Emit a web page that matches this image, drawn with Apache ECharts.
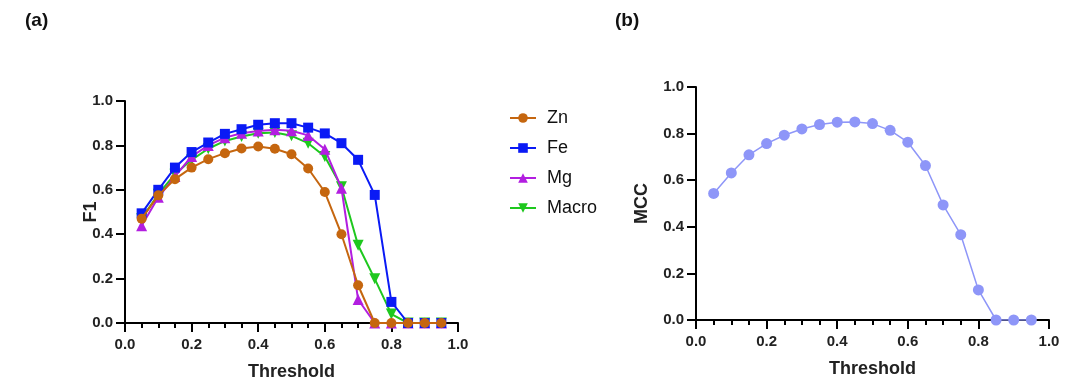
<!DOCTYPE html>
<html><head><meta charset="utf-8">
<script src="https://cdn.jsdelivr.net/npm/echarts@6/dist/echarts.min.js"></script>
<style>html,body{margin:0;padding:0;background:#fff}#c{width:1080px;height:391px}</style>
</head><body><div id="c"></div>
<script>
const thresholds = [0.05,0.1,0.15,0.2,0.25,0.3,0.35,0.4,0.45,0.5,0.55,0.6,0.65,0.7,0.75,0.8,0.85,0.9,0.95];
const zn    = [0.47,0.575,0.648,0.70,0.738,0.765,0.786,0.795,0.785,0.76,0.696,0.59,0.40,0.17,0,0,0,0,0];
const fe    = [0.494,0.60,0.70,0.77,0.813,0.852,0.873,0.893,0.90,0.90,0.88,0.854,0.81,0.735,0.577,0.095,0,0,0];
const mg    = [0.438,0.566,0.66,0.75,0.80,0.835,0.855,0.865,0.87,0.866,0.845,0.783,0.607,0.106,0,0,0,0,0];
const macro = [0.47,0.58,0.67,0.735,0.785,0.82,0.84,0.855,0.858,0.843,0.81,0.75,0.614,0.35,0.199,0.04,0,0,0];
const mcc   = [0.543,0.631,0.709,0.757,0.793,0.82,0.839,0.849,0.85,0.843,0.814,0.763,0.663,0.494,0.366,0.129,0,0,0];
const seriesNames = ['Zn','Fe','Mg','Macro'];
const pair = arr => thresholds.map((t,i)=>[t,arr[i]]);

const FONT = 'Liberation Sans, Arial, sans-serif';
function xAxis(gi){return {type:'value',gridIndex:gi,min:0,max:1,interval:0.2,
  name:'Threshold',nameLocation:'middle',nameGap:40,nameMoveOverlap:false,
  nameTextStyle:{fontFamily:FONT,fontWeight:'bold',fontSize:18,color:'#222'},
  axisLine:{lineStyle:{color:'#000',width:2}},
  axisTick:{length:9,lineStyle:{width:2,color:'#000'}},
  minorTick:{show:true,splitNumber:4,length:5,lineStyle:{width:2,color:'#000'}},
  axisLabel:{fontFamily:FONT,fontWeight:'bold',fontSize:15,color:'#222',margin:14,formatter:v=>v.toFixed(1)},
  splitLine:{show:false}};}
function yAxis(gi,name,gap){return {type:'value',gridIndex:gi,min:0,max:1,interval:0.2,
  name:name,nameLocation:'middle',nameGap:gap,nameRotate:90,nameMoveOverlap:false,
  nameTextStyle:{fontFamily:FONT,fontWeight:'bold',fontSize:18,color:'#222'},
  axisLine:{show:true,lineStyle:{color:'#000',width:2}},
  axisTick:{show:true,length:9,lineStyle:{width:2,color:'#000'}},
  axisLabel:{fontFamily:FONT,fontWeight:'bold',fontSize:15,color:'#222',margin:12,formatter:v=>v.toFixed(1)},
  splitLine:{show:false}};}

const colors = {Zn:'#C5660F',Fe:'#0A1AF5',Mg:'#B21EE0',Macro:'#1EC81E'};
const symbols = {Zn:['circle',10,0],Fe:['rect',10,0],Mg:['triangle',11,0],Macro:['triangle',11,180]};
const dataMap = {Zn:zn,Fe:fe,Mg:mg,Macro:macro};

const series = seriesNames.map(n=>({
  name:n,type:'line',xAxisIndex:0,yAxisIndex:0,data:pair(dataMap[n]),
  symbol:symbols[n][0],symbolSize:symbols[n][1],symbolRotate:symbols[n][2],
  color:colors[n],lineStyle:{width:2,color:colors[n]},itemStyle:{color:colors[n]},
  z: n==='Zn'?5:(n==='Fe'?4:(n==='Mg'?3:2))
}));
series.push({name:'MCC',type:'line',xAxisIndex:1,yAxisIndex:1,data:pair(mcc),
  symbol:'circle',symbolSize:11,color:'#8E96F8',lineStyle:{width:1.5,color:'#8E96F8'},itemStyle:{color:'#8E96F8'}});

const chart = echarts.init(document.getElementById('c'),null,{renderer:'canvas'});
chart.setOption({
  animation:false,
  backgroundColor:'#fff',
  title:[
    {text:'(a)',left:20,top:6,textStyle:{fontFamily:FONT,fontWeight:'bold',fontSize:19,color:'#111'}},
    {text:'(b)',left:610,top:6,textStyle:{fontFamily:FONT,fontWeight:'bold',fontSize:19,color:'#111'}}
  ],
  grid:[
    {left:125,right:622,top:101,bottom:68},
    {left:696,right:31,top:87,bottom:71}
  ],
  xAxis:[xAxis(0),xAxis(1)],
  yAxis:[yAxis(0,'F1',25),yAxis(1,'MCC',45)],
  legend:{data:seriesNames,orient:'vertical',left:504,top:104,itemGap:12,itemWidth:26,itemHeight:12,
    textStyle:{fontFamily:FONT,fontSize:18,color:'#111',padding:[0,0,0,6]}},
  series:series
});
</script></body></html>
